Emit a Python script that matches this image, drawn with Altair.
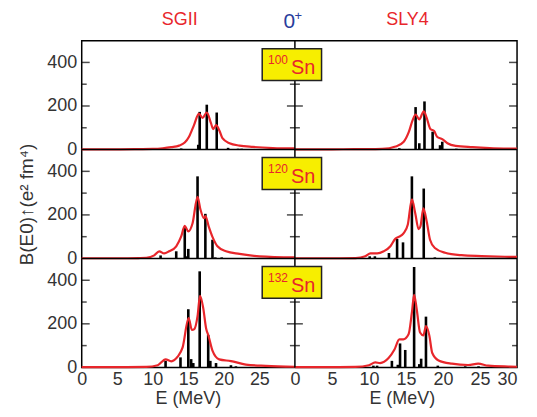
import altair as alt
import pandas as pd

# ---------------- data ----------------
MODELS = ["SGII", "SLY4"]
NUCLEI = ["100", "120", "132"]
X_TICK_LABELS = [0, 5, 10, 15, 20, 25, 30]
Y_TICK_LABELS = [0, 200, 400]
Y_TICKS_ALL = [100, 200, 300, 400]

# stick spectra: energies (MeV) and B(E0) strengths (e^2 fm^4)
SGII_100_E = [14.0, 16.4, 16.6, 17.6, 19.0, 20.6, 22.0, 22.5]
SGII_100_B = [5, 22, 173, 206, 170, 8, 4, 4]
SLY4_100_E = [14.1, 16.3, 16.8, 17.5, 18.6, 19.6, 19.9, 21.8]
SLY4_100_B = [6, 195, 29, 221, 82, 20, 36, 4]
SGII_120_E = [11.1, 13.3, 14.5, 14.8, 15.0, 16.3, 17.4, 18.4, 18.8, 19.7]
SGII_120_B = [14, 33, 144, 10, 44, 377, 205, 86, 5, 5]
SLY4_120_E = [10.1, 10.8, 12.7, 13.8, 14.6, 15.8, 17.4, 18.9]
SLY4_120_B = [10, 10, 25, 90, 74, 377, 321, 5]
SGII_132_E = [11.8, 13.9, 15.0, 15.4, 15.7, 16.6, 17.8, 18.1, 18.9, 21.0, 21.7]
SGII_132_B = [30, 46, 267, 38, 20, 441, 149, 30, 20, 10, 5]
SLY4_132_E = [10.6, 11.1, 13.1, 13.9, 14.2, 14.9, 16.1, 16.8, 17.05, 17.7, 19.3, 23.0, 24.8]
SLY4_132_B = [8, 8, 30, 12, 110, 80, 461, 15, 40, 233, 8, 5, 5]

# folded (smoothed) strength curves
SGII_100_CE = [0, 5, 8, 10, 11.4, 12.6, 13.7, 14.5, 15.1, 15.8, 16.5, 17.0, 17.6, 18.2, 18.5, 18.9, 19.4, 19.8, 20.8, 22.2, 24.1, 26.9, 30]
SGII_100_CB = [1, 1, 2, 3, 6, 11, 18, 32, 59, 112, 165, 145, 170, 120, 94, 112, 85, 52, 29, 18, 12, 7, 5]
SLY4_100_CE = [0, 5, 8, 10, 11.8, 13.6, 14.7, 15.4, 15.9, 16.3, 16.8, 17.4, 17.8, 18.3, 18.8, 19.2, 19.9, 20.6, 21.7, 24.0, 26.3, 30]
SLY4_100_CB = [1, 1, 2, 2, 3, 14, 36, 82, 135, 161, 139, 176, 145, 94, 85, 59, 48, 29, 17, 11, 7, 4]
SGII_120_CE = [0, 5, 8, 9.1, 10.2, 10.9, 11.6, 12.3, 13.3, 14.0, 14.5, 15.0, 15.6, 16.3, 16.7, 17.2, 17.4, 17.9, 18.4, 19.1, 20.3, 22.2, 25.0, 30]
SGII_120_CB = [1, 1, 2, 3, 14, 33, 23, 33, 56, 101, 150, 124, 162, 283, 226, 185, 195, 144, 99, 56, 33, 21, 10, 5]
SLY4_120_CE = [0, 5, 8.2, 9.5, 10.2, 11.1, 12.0, 12.9, 13.55, 14.0, 14.67, 15.25, 15.8, 16.25, 16.7, 16.95, 17.35, 17.8, 18.25, 18.9, 20.3, 22.5, 25.2, 28.35, 30]
SLY4_120_CB = [1, 1, 2, 10, 23, 23, 33, 56, 90, 99, 115, 156, 271, 208, 135, 147, 230, 170, 86, 48, 26, 15, 11, 8, 7]
SGII_132_CE = [0, 5, 9.1, 10.7, 11.8, 12.6, 13.5, 14.2, 15.05, 15.5, 15.85, 16.3, 16.65, 17.1, 17.5, 17.85, 18.4, 19.35, 21.0, 23.1, 25.9, 30]
SGII_132_CB = [1, 1, 2, 10, 37, 28, 49, 92, 226, 172, 176, 235, 329, 272, 180, 144, 77, 37, 29, 13, 7, 3]
SLY4_132_CE = [0, 5, 8.2, 10.0, 10.85, 11.5, 12.65, 13.45, 14.1, 14.65, 15.35, 15.8, 16.1, 16.45, 16.9, 17.35, 17.7, 18.15, 18.55, 19.4, 21.2, 23.4, 24.75, 26.1, 28.8, 30]
SLY4_132_CB = [1, 1, 2, 10, 23, 20, 43, 82, 129, 129, 152, 252, 333, 267, 160, 147, 190, 147, 66, 32, 17, 11, 17, 8, 4, 3]

STICKS = {
    ("SGII", "100"): (SGII_100_E, SGII_100_B), ("SLY4", "100"): (SLY4_100_E, SLY4_100_B),
    ("SGII", "120"): (SGII_120_E, SGII_120_B), ("SLY4", "120"): (SLY4_120_E, SLY4_120_B),
    ("SGII", "132"): (SGII_132_E, SGII_132_B), ("SLY4", "132"): (SLY4_132_E, SLY4_132_B),
}
CURVES = {
    ("SGII", "100"): (SGII_100_CE, SGII_100_CB), ("SLY4", "100"): (SLY4_100_CE, SLY4_100_CB),
    ("SGII", "120"): (SGII_120_CE, SGII_120_CB), ("SLY4", "120"): (SLY4_120_CE, SLY4_120_CB),
    ("SGII", "132"): (SGII_132_CE, SGII_132_CB), ("SLY4", "132"): (SLY4_132_CE, SLY4_132_CB),
}

# ---------------- layout helpers ----------------
ROW_OFF = {"100": 1000, "120": 500, "132": 0}   # stacked panels on one y scale
COL_OFF = {"SGII": 0, "SLY4": 30}               # side-by-side panels on one x scale
RED = "#e8262b"
FONT = "Liberation Sans"
W, H = 437, 328


def table(src):
    rows = []
    for (m, n), (es, bs) in src.items():
        for e, b in zip(es, bs):
            rows.append({"panel": m + n, "xpos": e + COL_OFF[m],
                         "base": ROW_OFF[n], "top": b + ROW_OFF[n]})
    return pd.DataFrame(rows)


sticks = table(STICKS)
curves = table(CURVES)

xscale = alt.Scale(domain=[0, 30, 60], range=[0, 214, W], nice=False, zero=False)
yscale = alt.Scale(domain=[0, 1500], nice=False, zero=False)

x_vals = X_TICK_LABELS[:-1] + [v + 30 for v in X_TICK_LABELS]
y_vals = sorted(v + o for o in ROW_OFF.values() for v in Y_TICK_LABELS)

xaxis = alt.Axis(values=x_vals, labelExpr="datum.value > 25 ? datum.value - 30 : datum.value",
                 title=None, grid=False, domain=False, ticks=False, tickSize=0,
                 labelPadding=3, labelFontSize=18, labelFont=FONT, labelColor="#333333",
                 labelFlush=False, labelOverlap=False,
                 labelAlign=alt.expr("datum.value == 60 ? 'right' : 'center'"))
yaxis = alt.Axis(values=y_vals, labelExpr="datum.value % 500",
                 title="B(E0)↑(e² fm⁴)", titleFontSize=19, titleFont=FONT,
                 titleFontWeight="normal", titleColor="#333333", titlePadding=10,
                 grid=False, domain=False, ticks=False, tickSize=0,
                 labelPadding=5, labelFontSize=18, labelFont=FONT, labelColor="#333333",
                 labelOverlap=False, labelFlush=False)

X = alt.X("xpos:Q", scale=xscale, axis=xaxis)
Y = alt.Y("top:Q", scale=yscale, axis=yaxis)

stick_layer = alt.Chart(sticks).mark_rule(color="black", strokeWidth=2.6).encode(
    x=X, y=Y, y2="base:Q")

curve_layer = alt.Chart(curves).mark_line(color=RED, strokeWidth=2.2, interpolate="monotone").encode(
    x=X, y=Y, detail="panel:N")

# panel separators
sep_h = alt.Chart(pd.DataFrame({"top": [500, 1000]})).mark_rule(
    color="black", strokeWidth=1.5).encode(y=Y)
sep_v = alt.Chart(pd.DataFrame({"xpos": [30]})).mark_rule(
    color="black", strokeWidth=1.5).encode(x=X)

# inward y ticks on left edge, middle divider, right edge
tick_df = pd.DataFrame([{"top": v + o, "major": v % 200 == 0}
                        for o in ROW_OFF.values() for v in Y_TICKS_ALL])


def ticks(xpos, major, size, off):
    d = tick_df[tick_df["major"] == major].assign(xpos=xpos)
    return alt.Chart(d).mark_tick(orient="horizontal", color="black", thickness=1.5,
                                  size=size, xOffset=off).encode(x=X, y=Y)


tick_layers = [
    ticks(0, True, 8, 4), ticks(0, False, 5, 2.5),
    ticks(30, True, 16, 0), ticks(30, False, 10, 0),
    ticks(60, True, 8, -4), ticks(60, False, 5, -2.5),
]

# nucleus label boxes
BOX_X = (25.4, 33.6)
BOX_Y = (317, 463)
box_df = pd.DataFrame([{"n": n, "x1": BOX_X[0], "x2": BOX_X[1],
                        "y1": BOX_Y[0] + ROW_OFF[n], "y2": BOX_Y[1] + ROW_OFF[n],
                        "xpos": 29.3, "ymass": 392 + ROW_OFF[n], "ysym": 346 + ROW_OFF[n]}
                       for n in NUCLEI])
box_layer = alt.Chart(box_df).mark_rect(fill="#f7ee00", stroke="#222222", strokeWidth=1.5).encode(
    x=alt.X("x1:Q", scale=xscale, axis=xaxis), x2="x2:Q",
    y=alt.Y("y1:Q", scale=yscale, axis=yaxis), y2="y2:Q")
mass_layer = alt.Chart(box_df).mark_text(color=RED, font=FONT, fontSize=12, align="right",
                                         baseline="alphabetic", dx=-2).encode(
    x=X, y=alt.Y("ymass:Q", scale=yscale, axis=yaxis), text="n:N")
sym_layer = alt.Chart(box_df).mark_text(color=RED, font=FONT, fontSize=20, align="left",
                                        baseline="alphabetic", dx=1).encode(
    x=X, y=alt.Y("ysym:Q", scale=yscale, axis=yaxis), text=alt.value("Sn"))

# headers
head_df = pd.DataFrame({"xpos": [13.8, 45.2], "label": MODELS})
head_layer = alt.Chart(head_df).mark_text(color=RED, font=FONT, fontSize=18,
                                          baseline="middle").encode(
    x=X, y=alt.value(-21), text="label:N")
spin_df = pd.DataFrame({"xpos": [29.2], "label": ["0"]})
spin_layer = alt.Chart(spin_df).mark_text(color="#2a3d9c", font=FONT, fontSize=21,
                                          baseline="middle").encode(
    x=X, y=alt.value(-19), text="label:N")
plus_layer = alt.Chart(spin_df).mark_text(color="#2a3d9c", font=FONT, fontSize=13,
                                          baseline="middle", dx=9).encode(
    x=X, y=alt.value(-25), text=alt.value("+"))

# x-axis titles
xt_df = pd.DataFrame({"xpos": [15, 44.5], "label": ["E (MeV)", "E (MeV)"]})
xt_layer = alt.Chart(xt_df).mark_text(color="#333333", font=FONT, fontSize=18,
                                      baseline="middle").encode(
    x=X, y=alt.value(H + 32), text="label:N")

chart = alt.layer(
    stick_layer, curve_layer, sep_h, sep_v, *tick_layers,
    box_layer, mass_layer, sym_layer, head_layer, spin_layer, plus_layer, xt_layer
).properties(
    width=W, height=H,
    autosize=alt.AutoSizeParams(type="none"),
    padding={"left": 74, "top": 32, "right": 12, "bottom": 41},
).configure_view(stroke="black", strokeWidth=1.5)

chart.save("out.html", embed_options={"renderer": "svg", "actions": False})
